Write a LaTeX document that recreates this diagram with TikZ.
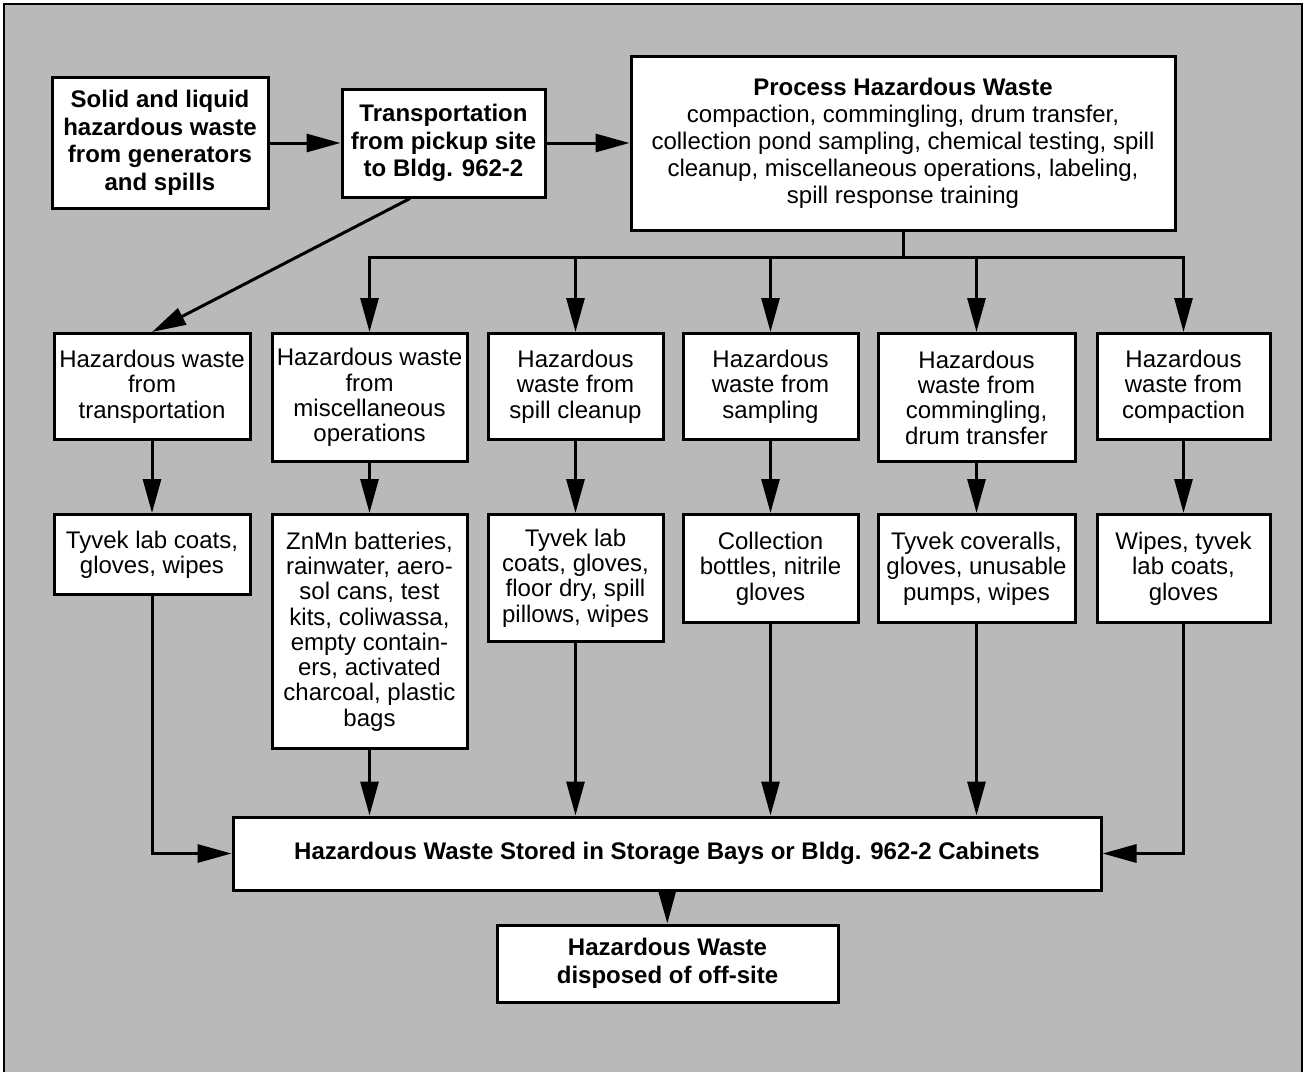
\documentclass[tikz,border=0pt]{standalone}
\usepackage{fontspec}
\setmainfont{Liberation Sans}
\usetikzlibrary{arrows.meta}

\tikzset{
    wbox/.style={draw, line width=3pt, fill=white, align=center, inner sep=0pt,
        font=\fontsize{24}{25.3}\selectfont},
    bbox/.style={wbox, font=\fontsize{24}{27.5}\selectfont\bfseries},
    flow/.style={line width=3pt, -{Triangle[length=34pt,width=18pt]}}
}

\begin{document}
\begin{tikzpicture}[x=1pt, y=-1pt]
            \useasboundingbox (0,0) rectangle (1306,1072);
            \fill[gray!55] (4,4) rectangle (1302,1072);
            \draw[line width=2.5pt] (4,1072) -- (4,4) -- (1302,4) -- (1302,1072);

            % top row
            \node[bbox, minimum width=216pt, minimum height=131pt] (src) at (160,143)
                {Solid and liquid\\hazardous waste\\from generators\\and spills};
            \node[bbox, minimum width=203pt, minimum height=108pt] (trans) at (443.5,143)
                {Transportation\\from pickup site\\to Bldg. 962-2};
            \node[wbox, font=\fontsize{24}{27}\selectfont, minimum width=544pt, minimum height=174pt] (proc) at (903,143)
                {{\bfseries Process Hazardous Waste}\\compaction, commingling, drum transfer,\\collection pond sampling, chemical testing, spill\\cleanup, miscellaneous operations, labeling,\\spill response training};

            % waste sources and items
            \foreach \n/\x/\w/\h/\t in {1/152/196/106/{Hazardous waste\\from\\transportation},
                2/369.5/195/128/{Hazardous waste\\from\\miscellaneous\\operations},
                3/575.5/175/106/{Hazardous\\waste from\\spill cleanup},
                4/770.5/175/106/{Hazardous\\waste from\\sampling},
                5/976.5/197/128/{Hazardous\\waste from\\commingling,\\drum transfer},
                6/1183.5/173/106/{Hazardous\\waste from\\compaction}}
            {
                \node[wbox, minimum width=\w pt, minimum height=\h pt, anchor=north] (hz\n) at (\x,332) {\t};
            }
            \foreach \n/\x/\w/\h/\t in {1/152/196/80/{Tyvek lab coats,\\gloves, wipes},
                2/369.5/195/234/{ZnMn batteries,\\rainwater, aero-\\sol cans, test\\kits, coliwassa,\\empty contain-\\ers, activated\\charcoal, plastic\\bags},
                3/575.5/175/127/{Tyvek lab\\coats, gloves,\\floor dry, spill\\pillows, wipes},
                4/770.5/175/108/{Collection\\bottles, nitrile\\gloves},
                5/976.5/197/108/{Tyvek coveralls,\\gloves, unusable\\pumps, wipes},
                6/1183.5/173/108/{Wipes, tyvek\\lab coats,\\gloves}}
            {
                \node[wbox, minimum width=\w pt, minimum height=\h pt, anchor=north] (it\n) at (\x,513) {\t};
                \draw[flow] (hz\n) -- (it\n);
            }

            \node[bbox, minimum width=868pt, minimum height=73pt] (store) at (667,853.5)
                {Hazardous Waste Stored in Storage Bays or Bldg. 962-2 Cabinets};
            \node[bbox, minimum width=341pt, minimum height=77pt] (final) at (667.5,963.5)
                {Hazardous Waste\\disposed of off-site};

            % connectors
            \coordinate (bus) at (903,257);
            \draw[flow] (src) -- (trans);
            \draw[flow] (trans) -- (proc);
            \draw[flow] ([xshift=-33.5pt]trans.south) -- (hz1.north);
            \foreach \n in {2,...,6}
                \draw[flow] (proc.south) -- (bus) -| (hz\n.north);
            \foreach \n in {2,...,5}
                \draw[flow] (it\n.south) -- (it\n.south |- store.north);
            \draw[flow] (it1.south) |- (store.west);
            \draw[flow] (it6.south) |- (store.east);
            \draw[flow] (store) -- (final);
        \end{tikzpicture}
\end{document}
